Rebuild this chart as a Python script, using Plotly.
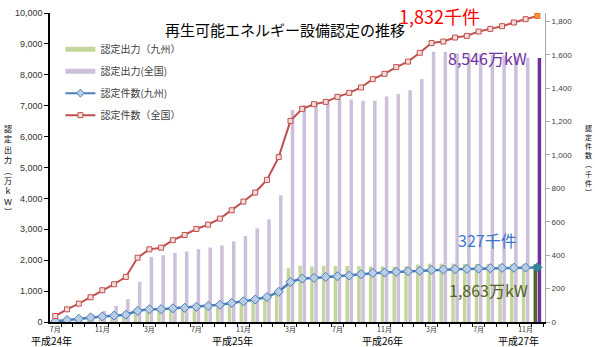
import plotly.graph_objects as go

# 月次の区分（平成24年7月〜平成27年12月）
months = []
y, m = 2012, 7
while (y, m) <= (2015, 12):
    months.append(f"{y}-{m:02d}")
    m += 1
    if m > 12:
        y, m = y + 1, 1

tick_text = [f"{int(s[5:])}月" if int(s[5:]) in (3, 7, 11) else "" for s in months]

# 認定出力（万kW）
output_kyushu = [5, 20, 40, 70, 100, 140, 190, 300, 340, 360,
                 385, 410, 440, 475, 515, 580, 655, 735, 840, 980,
                 1740, 1820, 1800, 1820, 1810, 1810, 1810, 1800, 1800, 1790,
                 1800, 1860, 1890, 1890, 1890, 1880, 1880, 1880, 1875, 1870,
                 1865, 1863]
output_japan = [20, 60, 130, 250, 360, 520, 740, 1305, 2105, 2157,
                2230, 2280, 2355, 2410, 2475, 2610, 2783, 3031, 3322, 4100,
                6860, 7020, 7100, 7150, 7200, 7200, 7160, 7160, 7300, 7380,
                7500, 7860, 8747, 8747, 8690, 8670, 8670, 8640, 8625, 8595,
                8550, 8546]

# 認定件数（千件）
count_kyushu = [4, 12, 19, 27, 33, 38, 44, 67, 76, 77,
                82, 85, 91, 96, 103, 114, 124, 135, 149, 181,
                240, 260, 264, 270, 274, 278, 286, 294, 296, 300,
                304, 306, 312, 314, 316, 318, 320, 322, 324, 325,
                326, 327]
count_japan = [36, 76, 110, 148, 190, 226, 270, 385, 435, 445,
               490, 521, 557, 583, 619, 669, 721, 775, 851, 987,
               1204, 1276, 1304, 1318, 1348, 1372, 1404, 1454, 1486, 1526,
               1559, 1612, 1670, 1679, 1703, 1713, 1739, 1755, 1771, 1793,
               1813, 1832]

JP = "Noto Sans CJK JP"
n = len(months)

green_bar = ["#C3D69B"] * (n - 1) + ["#4F6228"]
purple_bar = ["#CCC0DA"] * (n - 1) + ["#7030A0"]
red_fill = ["#F2DCDB"] * (n - 1) + ["#F79646"]
red_edge = ["#C0504D"] * (n - 1) + ["#E46C0A"]
blue_fill = ["#B9CDE5"] * (n - 1) + ["#31859C"]
blue_edge = ["#4A7EBB"] * (n - 1) + ["#31859C"]

fig = go.Figure()

fig.add_trace(go.Bar(x=months, y=output_kyushu, marker=dict(color=green_bar, line_width=0),
                     showlegend=False, yaxis="y"))
fig.add_trace(go.Bar(x=months, y=output_japan, marker=dict(color=purple_bar, line_width=0),
                     showlegend=False, yaxis="y"))
fig.add_trace(go.Scatter(x=months, y=count_kyushu, mode="lines+markers", yaxis="y2",
                         line=dict(color="#4A7EBB", width=2.5),
                         marker=dict(symbol="diamond", size=7, color=blue_fill,
                                     line=dict(color=blue_edge, width=1)),
                         showlegend=False))
fig.add_trace(go.Scatter(x=months, y=count_japan, mode="lines+markers", yaxis="y2",
                         line=dict(color="#C0504D", width=2),
                         marker=dict(symbol="square", size=5, color=red_fill,
                                     line=dict(color=red_edge, width=1)),
                         showlegend=False))

# 凡例用の項目
legend_items = [
    ("認定出力（九州）", dict(mode="lines", line=dict(color="#C3D69B", width=5))),
    ("認定出力(全国)", dict(mode="lines", line=dict(color="#CCC0DA", width=5))),
    ("認定件数(九州)", dict(mode="lines+markers", line=dict(color="#4A7EBB", width=2),
                          marker=dict(symbol="diamond", size=6, color="#B9CDE5",
                                      line=dict(color="#4A7EBB", width=1)))),
    ("認定件数（全国）", dict(mode="lines+markers", line=dict(color="#C0504D", width=2),
                          marker=dict(symbol="square", size=5, color="#F2DCDB",
                                      line=dict(color="#C0504D", width=1)))),
]
for i, (name, style) in enumerate(legend_items):
    fig.add_trace(go.Scatter(x=[None], y=[None], name=name, legendgroup=f"g{i}",
                             yaxis="y2", **style))


def note(text, x, y, size, color, family=JP):
    return dict(text=text, x=x, y=y, xref="paper", yref="paper", showarrow=False,
                xanchor="center", yanchor="middle", align="center",
                font=dict(family=family, size=size, color=color))


def py(pixel_y):
    # 縦位置（描画領域 13〜322px）を paper 座標へ
    return (322 - pixel_y) / 309


annotations = [
    note("再生可能エネルギー設備認定の推移", 0.474, py(29), 15, "#000000"),
    note("1,832千件", 0.786, py(16), 18, "#FF0000"),
    note("8,546万kW", 0.883, 0.854, 16, "#7030A0"),
    note("327千件", 0.883, 0.265, 16, "#3C78C8"),
    note("1,863万kW", 0.885, 0.104, 16, "#4F6228"),
    # 縦書きの軸タイトル
    note("<br>".join("認定出力︵万ｋＷ︶"), -0.085, py(170), 8, "#000000"),
    note("<br>".join("認定件数︵千件︶"), 1.087, py(160), 7, "#000000"),
]

for label, xp in [("平成24年", 0.004), ("平成25年", 0.368), ("平成26年", 0.671), ("平成27年", 0.947)]:
    annotations.append(note(label, xp, py(340.5), 10, "#000000"))

fig.update_layout(
    width=595, height=347,
    margin=dict(l=50, r=50, t=13, b=25),
    paper_bgcolor="white", plot_bgcolor="white",
    barmode="group", bargap=0.3, bargroupgap=0.15,
    font=dict(family=JP, color="#333333"),
    xaxis=dict(type="category", categoryorder="array", categoryarray=months,
               tickvals=months, ticktext=tick_text, tickson="boundaries",
               tickangle=0, automargin=False,
               ticks="outside", ticklen=3, tickcolor="#000000",
               range=[-0.45, n - 0.35], showgrid=False, zeroline=False,
               showline=True, linecolor="#000000", linewidth=1.5,
               tickfont=dict(family=JP, size=7, color="#333333")),
    yaxis=dict(range=[0, 10000], dtick=1000, tickformat=",d", showgrid=False,
               automargin=False,
               zeroline=False, showline=True, linecolor="#000000", linewidth=1.5,
               ticks="outside", ticklen=4, tickcolor="#000000",
               tickfont=dict(family="Liberation Sans", size=9, color="#333333")),
    yaxis2=dict(range=[0, 1850], dtick=200, tickformat=",d", overlaying="y", side="right",
                automargin=False,
                showgrid=False, zeroline=False, showline=True, linecolor="#A6A6A6",
                linewidth=1, ticks="outside", ticklen=4, tickcolor="#A6A6A6",
                tickfont=dict(family="Liberation Sans", size=8, color="#404040")),
    legend=dict(x=0.021, y=0.93, xanchor="left", yanchor="top", bgcolor="rgba(0,0,0,0)",
                traceorder="grouped", tracegroupgap=3,
                font=dict(family=JP, size=10, color="#404040"), itemwidth=30),
    annotations=annotations,
)

fig.write_html("out.html")
